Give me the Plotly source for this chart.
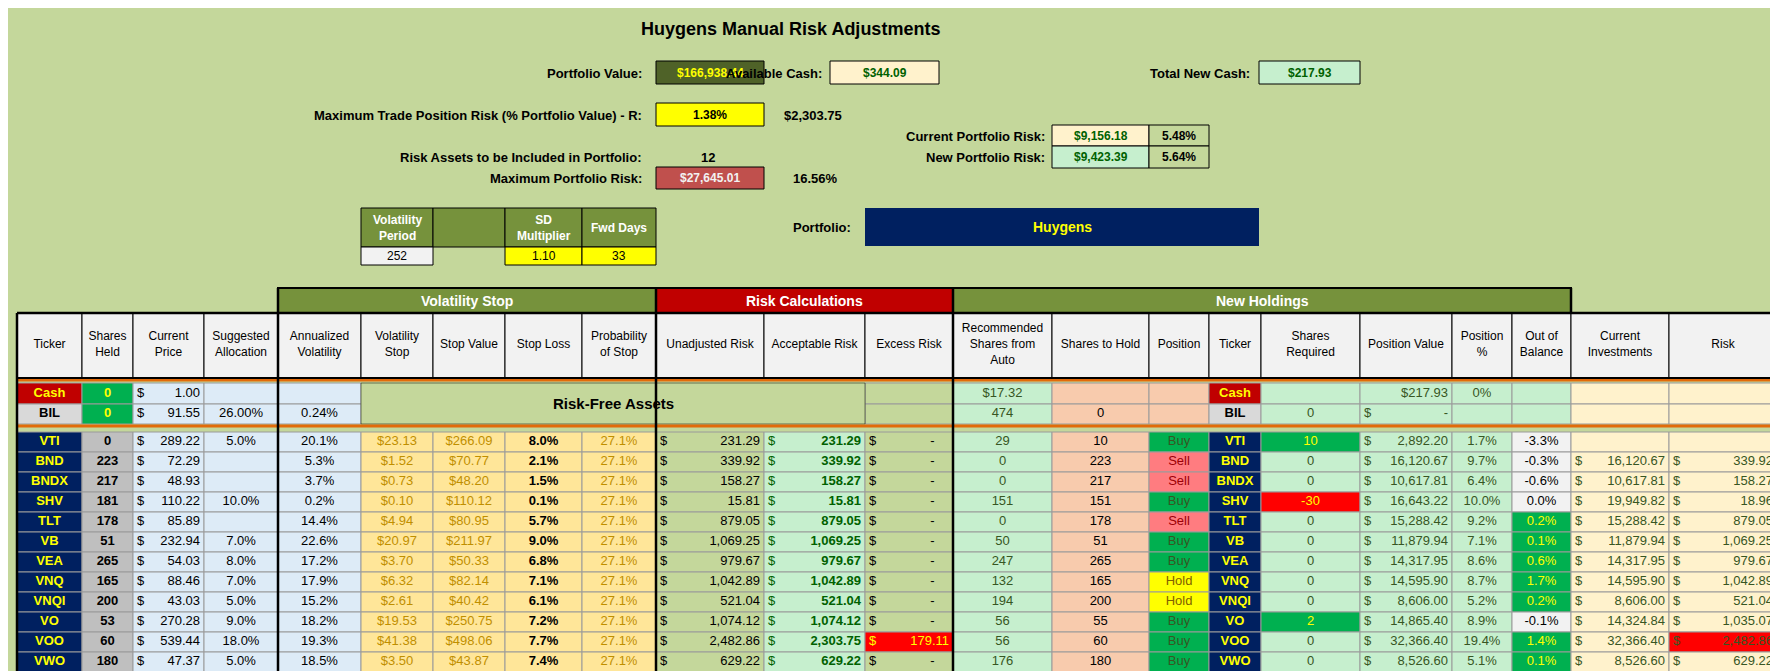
import plotly.graph_objects as go

W, H = 1778, 671
FONT = "Liberation Sans Narrow, Arial Narrow, Liberation Sans, sans-serif"

# ---- top summary values
title = "Huygens Manual Risk Adjustments"
portfolio_value = "$166,938.44"
available_cash = "$344.09"
total_new_cash = "$217.93"
max_trade_risk_pct = "1.38%"
max_trade_risk_usd = "$2,303.75"
current_risk = ["$9,156.18", "5.48%"]
new_risk = ["$9,423.39", "5.64%"]
risk_assets = "12"
max_port_risk = ["$27,645.01", "16.56%"]
param_labels = ["Volatility<br>Period", "", "SD<br>Multiplier", "Fwd Days"]
param_values = ["252", "", "1.10", "33"]
portfolio_name = "Huygens"

# ---- main table data
tickers = ["VTI", "BND", "BNDX", "SHV", "TLT", "VB", "VEA", "VNQ", "VNQI", "VO", "VOO", "VWO"]
shares_held = [0, 223, 217, 181, 178, 51, 265, 165, 200, 53, 60, 180]
prices = [289.22, 72.29, 48.93, 110.22, 85.89, 232.94, 54.03, 88.46, 43.03, 270.28, 539.44, 47.37]
alloc = ["5.0%", "", "", "10.0%", "", "7.0%", "8.0%", "7.0%", "5.0%", "9.0%", "18.0%", "5.0%"]
ann_vol = [20.1, 5.3, 3.7, 0.2, 14.4, 22.6, 17.2, 17.9, 15.2, 18.2, 19.3, 18.5]
vol_stop = [23.13, 1.52, 0.73, 0.10, 4.94, 20.97, 3.70, 6.32, 2.61, 19.53, 41.38, 3.50]
stop_value = [266.09, 70.77, 48.20, 110.12, 80.95, 211.97, 50.33, 82.14, 40.42, 250.75, 498.06, 43.87]
stop_loss = [8.0, 2.1, 1.5, 0.1, 5.7, 9.0, 6.8, 7.1, 6.1, 7.2, 7.7, 7.4]
prob_stop = [27.1] * 12
unadj_risk = [231.29, 339.92, 158.27, 15.81, 879.05, 1069.25, 979.67, 1042.89, 521.04, 1074.12, 2482.86, 629.22]
accept_risk = [231.29, 339.92, 158.27, 15.81, 879.05, 1069.25, 979.67, 1042.89, 521.04, 1074.12, 2303.75, 629.22]
excess_risk = [0, 0, 0, 0, 0, 0, 0, 0, 0, 0, 179.11, 0]
rec_shares = [29, 0, 0, 151, 0, 50, 247, 132, 194, 56, 56, 176]
shares_hold = [10, 223, 217, 151, 178, 51, 265, 165, 200, 55, 60, 180]
position = ["Buy", "Sell", "Sell", "Buy", "Sell", "Buy", "Buy", "Hold", "Hold", "Buy", "Buy", "Buy"]
shares_req = [10, 0, 0, -30, 0, 0, 0, 0, 0, 2, 0, 0]
pos_value = [2892.20, 16120.67, 10617.81, 16643.22, 15288.42, 11879.94, 14317.95, 14595.90, 8606.00, 14865.40, 32366.40, 8526.60]
pos_pct = [1.7, 9.7, 6.4, 10.0, 9.2, 7.1, 8.6, 8.7, 5.2, 8.9, 19.4, 5.1]
out_bal = [-3.3, -0.3, -0.6, 0.0, 0.2, 0.1, 0.6, 1.7, 0.2, -0.1, 1.4, 0.1]
cur_inv = [None, 16120.67, 10617.81, 19949.82, 15288.42, 11879.94, 14317.95, 14595.90, 8606.00, 14324.84, 32366.40, 8526.60]
risk = [None, 339.92, 158.27, 18.96, 879.05, 1069.25, 979.67, 1042.89, 521.04, 1035.07, 2482.86, 629.22]

# risk free rows
rf_tickers = ["Cash", "BIL"]
rf_prices = [1.00, 91.55]
rf_alloc = ["", "26.00%"]
rf_vol = ["", "0.24%"]
rf_rec = ["$17.32", "474"]
rf_hold = ["", "0"]
rf_req = ["", "0"]
rf_value = ["|$217.93", "$|-"]
rf_pct = ["0%", ""]

headers = ["Ticker", "Shares<br>Held", "Current<br>Price", "Suggested<br>Allocation", "Annualized<br>Volatility",
           "Volatility<br>Stop", "Stop Value", "Stop Loss", "Probability<br>of Stop", "Unadjusted Risk",
           "Acceptable Risk", "Excess Risk", "Recommended<br>Shares from<br>Auto", "Shares to Hold", "Position",
           "Ticker", "Shares<br>Required", "Position Value", "Position<br>%", "Out of<br>Balance",
           "Current<br>Investments", "Risk"]
col_edges = [9, 74, 125, 196, 270, 353, 425, 497, 574, 648, 756, 857, 945, 1044, 1141, 1201, 1253, 1352, 1444,
             1504, 1563, 1661, 1769]


def money(v):
    return "$|{:,.2f}".format(v)


def pct(v):
    return "{:.1f}%".format(v)


BG = "#c4d79b"
NAVY = "#002060"
YEL = "#ffff00"
LBLUE = "#ddebf7"
GOLD = "#ffe699"
LGREEN = "#c6efce"
PEACH = "#f8cbad"
LYEL = "#fff2cc"
GREEN = "#00b050"
RED = "#ff0000"

n = len(tickers)
cols, fills, fcols = [], [], []


def add(rf_vals, vals, rf_fill, fill, rf_font, font):
    cols.append(list(rf_vals) + list(vals) + [""])
    fills.append(list(rf_fill) + list(fill) + [fill[-1]])
    fcols.append(list(rf_font) + list(font) + ["black"])


add(["<b>%s</b>" % t for t in rf_tickers], ["<b>%s</b>" % t for t in tickers], ["#c00000", "#d9d9d9"], [NAVY] * n, [YEL, "black"], [YEL] * n)
add(["<b>0</b>", "<b>0</b>"], ["<b>%d</b>" % s for s in shares_held], [GREEN, GREEN], ["#bfbfbf"] * n, [YEL, YEL], ["black"] * n)
add([money(p) for p in rf_prices], [money(p) for p in prices], [LBLUE] * 2, [LBLUE] * n, ["black"] * 2, ["black"] * n)
add(rf_alloc, alloc, [LBLUE] * 2, [LBLUE] * n, ["black"] * 2, ["black"] * n)
add(rf_vol, [pct(v) for v in ann_vol], [LBLUE] * 2, [LBLUE] * n, ["black"] * 2, ["black"] * n)
add(["", ""], ["${:.2f}".format(v) for v in vol_stop], [BG] * 2, [GOLD] * n, ["black"] * 2, ["#bf8f00"] * n)
add(["", ""], ["${:.2f}".format(v) for v in stop_value], [BG] * 2, [GOLD] * n, ["black"] * 2, ["#bf8f00"] * n)
add(["", ""], ["<b>%s</b>" % pct(v) for v in stop_loss], [BG] * 2, [GOLD] * n, ["black"] * 2, ["black"] * n)
add(["", ""], [pct(v) for v in prob_stop], [BG] * 2, [GOLD] * n, ["black"] * 2, ["#bf8f00"] * n)
add(["", ""], [money(v) for v in unadj_risk], [BG] * 2, [BG] * n, ["black"] * 2, ["black"] * n)
add(["", ""], ["$|<b>{:,.2f}</b>".format(v) for v in accept_risk], [BG] * 2, [LGREEN] * n, ["black"] * 2, ["#006100"] * n)
add(["", ""], [money(v) if v else "$|-&nbsp;&nbsp;&nbsp;&nbsp;" for v in excess_risk], [BG] * 2,
    [RED if v else BG for v in excess_risk], ["black"] * 2, [YEL if v else "black" for v in excess_risk])
add(rf_rec, [str(v) for v in rec_shares], [LGREEN] * 2, [LGREEN] * n, ["#375623"] * 2, ["#375623"] * n)
add(rf_hold, [str(v) for v in shares_hold], [PEACH] * 2, [PEACH] * n, ["black"] * 2, ["black"] * n)
pos_fill = {"Buy": GREEN, "Sell": "#ff7c80", "Hold": YEL}
pos_font = {"Buy": "#375623", "Sell": "#9c0006", "Hold": "#7f6000"}
add(["", ""], position, [PEACH] * 2, [pos_fill[p] for p in position], ["black"] * 2, [pos_font[p] for p in position])
add(["<b>%s</b>" % t for t in rf_tickers], ["<b>%s</b>" % t for t in tickers], ["#c00000", "#d9d9d9"], [NAVY] * n, [YEL, "black"], [YEL] * n)
add(rf_req, [str(v) for v in shares_req], [LGREEN] * 2,
    [GREEN if v > 0 else RED if v < 0 else LGREEN for v in shares_req], ["#375623"] * 2,
    [YEL if v else "#375623" for v in shares_req])
add(rf_value, [money(v) for v in pos_value], [LGREEN] * 2, [LGREEN] * n, ["#375623"] * 2, ["#375623"] * n)
add(rf_pct, [pct(v) for v in pos_pct], [LGREEN] * 2, [LGREEN] * n, ["#375623"] * 2, ["#375623"] * n)
add(["", ""], [pct(v) for v in out_bal], [LGREEN] * 2, [GREEN if v > 0 else "#f2f2f2" for v in out_bal],
    ["black"] * 2, [YEL if v > 0 else "black" for v in out_bal])
add(["", ""], [money(v) if v else "" for v in cur_inv], [LYEL] * 2, [LYEL] * n, ["black"] * 2, ["#375623"] * n)
add(["", ""], [money(v) if v else "" for v in risk], [LYEL] * 2,
    [RED if (v and v > 2400) else LYEL for v in risk], ["black"] * 2, ["#375623"] * n)

# row geometry (pixels from top)
row_y = [(375, 396), (396, 416)] + [(424 + 20 * i, 444 + 20 * i) for i in range(n + 1)]
merged_cols = range(5, 11)

shapes = []
tx, ty, tt, tp, tc, ts = [], [], [], [], [], []


def text(x, y, s, pos, color, size=13):
    tx.append(x); ty.append(y); tt.append(s); tp.append(pos); tc.append(color); ts.append(size)


def rect(x0, x1, y0, y1, fill, lc="#9a9a9a", lw=1):
    shapes.append(dict(type="rect", xref="x", yref="y", x0=x0, x1=x1, y0=y0, y1=y1,
                       fillcolor=fill, line=dict(color=lc, width=lw), layer="below"))


for c, head in enumerate(headers):
    x0, x1 = col_edges[c], col_edges[c + 1]
    rect(x0, x1, 305, 370, "#f2f2f2", "black", 1)
    text((x0 + x1) / 2, 337, head, "middle center", "black", 12)
    for r, (y0, y1) in enumerate(row_y):
        if r < 2 and c in merged_cols:
            continue
        rect(x0, x1, y0, y1, fills[c][r])
        s = cols[c][r]
        ym = (y0 + y1) / 2
        if "|" in s:
            left, right = s.split("|")
            if left:
                text(x0 + 4, ym, left, "middle right", fcols[c][r])
            text(x1 - 4, ym, right, "middle left", fcols[c][r])
        elif s:
            text((x0 + x1) / 2, ym, s, "middle center", fcols[c][r])

fig = go.Figure(go.Scatter(x=tx, y=ty, text=tt, mode="text", textposition=tp, hoverinfo="skip",
                           textfont=dict(family=FONT, size=ts, color=tc)))

annots = []


def box(x0, x1, y0, y1, fill, txt="", color="black", lw=1, size=13, bold=True):
    shapes.append(dict(type="rect", xref="x", yref="y", x0=x0, x1=x1, y0=y0, y1=y1,
                       fillcolor=fill, line=dict(color="black", width=lw)))
    if txt:
        annots.append(dict(x=(x0 + x1) / 2, y=(y0 + y1) / 2, text="<b>%s</b>" % txt if bold else txt,
                           xanchor="center", yanchor="middle", showarrow=False,
                           font=dict(family=FONT, size=size, color=color)))


def label(x, y, txt, anchor="right", size=13, bold=True):
    annots.append(dict(x=x, y=y, text="<b>%s</b>" % txt if bold else txt, xanchor=anchor, yanchor="middle",
                       showarrow=False, font=dict(family=FONT, size=size, color="black")))


label(782, 21, title, "center", size=18)
label(636, 65, "Portfolio Value:")
box(648, 756, 53, 76, "#4f6228", portfolio_value, YEL, size=12)
label(816, 65, "Available Cash:")
box(822, 931, 53, 76, LYEL, available_cash, "#006100", size=12)
label(1244, 65, "Total New Cash:")
box(1251, 1352, 53, 76, LGREEN, total_new_cash, "#006100", size=12)
label(636, 107, "Maximum Trade Position Risk (% Portfolio Value) - R:")
box(648, 756, 95, 118, YEL, max_trade_risk_pct, size=12)
label(774, 107, max_trade_risk_usd, "left")
label(1039, 128, "Current Portfolio Risk:")
box(1044, 1141, 117, 138, LYEL, current_risk[0], "#006100", size=12)
box(1141, 1201, 117, 138, BG, current_risk[1], size=12)
label(1039, 149, "New Portfolio Risk:")
box(1044, 1141, 138, 160, LGREEN, new_risk[0], "#006100", size=12)
box(1141, 1201, 138, 160, BG, new_risk[1], size=12)
label(636, 149, "Risk Assets to be Included in Portfolio:")
label(700, 149, risk_assets, "center")
label(636, 170, "Maximum Portfolio Risk:")
box(648, 756, 159, 181, "#c0504d", max_port_risk[0], "#f2f2f2", size=12)
label(807, 170, max_port_risk[1], "center")

pxs = [353, 425, 497, 574, 648]
for i in range(4):
    box(pxs[i], pxs[i + 1], 200, 239, "#76923c", param_labels[i], "white", size=12)
    if i != 1:
        box(pxs[i], pxs[i + 1], 239, 257, "#f2f2f2" if i == 0 else YEL, param_values[i], "black", bold=False,
            size=12)
label(845, 219, "Portfolio:")
box(857, 1251, 200, 238, NAVY, portfolio_name, YEL, lw=0, size=14)

# group header row
box(270, 648, 280, 305, "#76923c", "Volatility Stop", "white", lw=2, size=14)
box(648, 945, 280, 305, "#c00000", "Risk Calculations", "white", lw=2, size=14)
box(945, 1563, 280, 305, "#76923c", "New Holdings", "white", lw=2, size=14)

# merged risk-free area
box(353, 857, 375, 416, BG, "Risk-Free Assets", "black", lw=0.5, size=15)

# orange separators and heavy borders
for yy in [372, 418]:
    shapes.append(dict(type="line", xref="x", yref="y", x0=9, x1=1769, y0=yy, y1=yy,
                       line=dict(color="#e26b0a", width=3)))
for xx in [270, 648, 945]:
    shapes.append(dict(type="line", xref="x", yref="y", x0=xx, x1=xx, y0=280, y1=H,
                       line=dict(color="black", width=2.5)))
shapes.append(dict(type="line", xref="x", yref="y", x0=1563, x1=1563, y0=280, y1=305,
                   line=dict(color="black", width=2.5)))
shapes.append(dict(type="line", xref="x", yref="y", x0=9, x1=1769, y0=305, y1=305,
                   line=dict(color="black", width=2.5)))
shapes.append(dict(type="line", xref="x", yref="y", x0=9, x1=1769, y0=370, y1=370,
                   line=dict(color="black", width=2)))
for xx in [9, 1769]:
    shapes.append(dict(type="line", xref="x", yref="y", x0=xx, x1=xx, y0=305, y1=H,
                       line=dict(color="black", width=2.5)))

fig.update_layout(width=W, height=H, margin=dict(l=0, r=0, t=0, b=0), paper_bgcolor=BG, plot_bgcolor=BG,
                  shapes=shapes, annotations=annots, showlegend=False,
                  xaxis=dict(range=[0, W], visible=False, fixedrange=True),
                  yaxis=dict(range=[H, 0], visible=False, fixedrange=True))
fig.write_html("out.html")
